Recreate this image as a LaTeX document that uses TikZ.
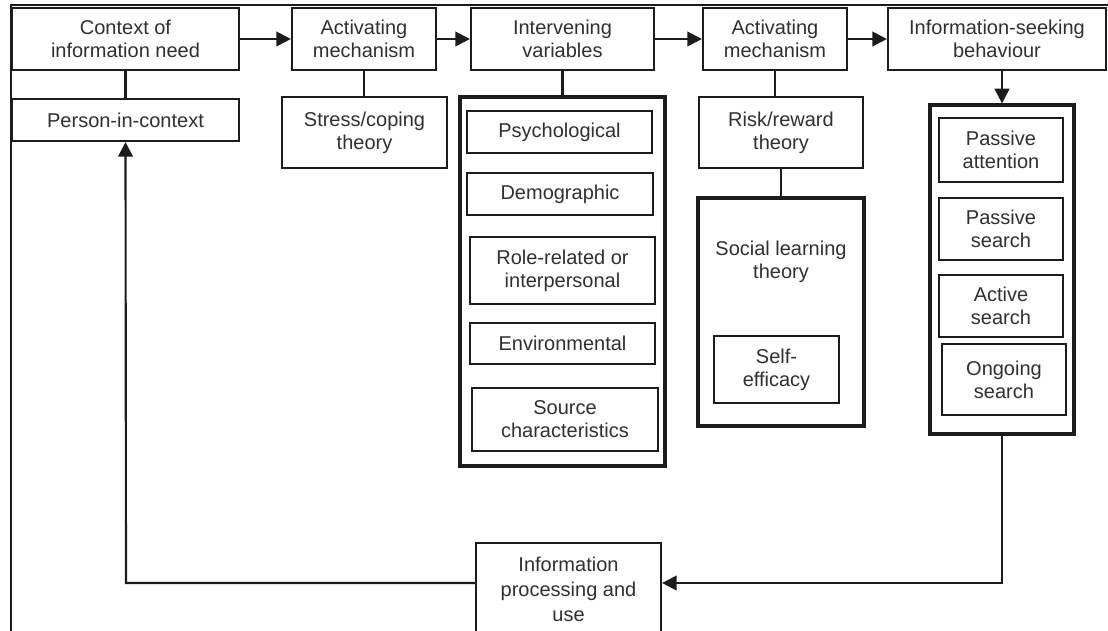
\documentclass[tikz,border=0pt]{standalone}
\usepackage{fontspec}
\setmainfont{Liberation Sans}
\usetikzlibrary{arrows.meta}
\definecolor{ink}{HTML}{1C1C1C}
\definecolor{txt}{HTML}{303030}
\tikzset{
  txtfont/.style={text=txt, font=\fontsize{15}{17.25}\selectfont},
  bx/.style={draw=ink, line width=1.6pt, inner sep=0pt, align=center, txtfont},
  frame/.style={draw=ink, line width=2.4pt, inner sep=0pt},
  link/.style={draw=ink, line width=1.6pt},
  flow/.style={link, -{Triangle[length=11pt,width=11pt]}},
  lbl/.style={align=center, inner sep=0pt, txtfont}
}
% \placebox[options]{name}{x1}{y1}{x2}{y2}{text}: a box spanning two corners
\newcommand\placebox[7][]{%
  \pgfmathsetmacro\boxw{(#5-#3)*0.75}%
  \pgfmathsetmacro\boxh{(#6-#4)*0.75}%
  \node[bx, minimum width=\boxw pt, minimum height=\boxh pt, #1] (#2)
    at ({(#3+#5)/2},{(#4+#6)/2}) {#7};%
}
\begin{document}
\begin{tikzpicture}[x=0.75pt, y=-0.75pt]
  \useasboundingbox (0,0) rectangle (1108,631);
  \clip (0,0) rectangle (1108,631);
  \fill[white] (0,0) rectangle (1108,631);

  % outer rules along the top and the left side
  \draw[ink, line width=2pt] (11,631) -- (11,5) -- (1108,5);

  % main row
  \placebox{ctx}{12}{8}{239}{70}{Context of\\information need}
  \placebox{am1}{292}{8}{436}{70}{Activating\\mechanism}
  \placebox{iv}{471}{8}{654}{70}{Intervening\\variables}
  \placebox{am2}{703}{8}{847}{70}{Activating\\mechanism}
  \placebox{isb}{888}{8}{1106}{70}{Information-seeking\\behaviour}

  % second row
  \placebox{pic}{12}{99}{239}{141}{Person-in-context}
  \placebox{stress}{282}{97}{447}{168}{Stress/coping\\theory}
  \placebox{risk}{699}{97}{863}{168}{Risk/reward\\theory}

  % intervening variables group
  \placebox[frame]{ivc}{460}{97}{665}{466}{}
  \placebox{psy}{467}{111}{652}{153}{Psychological}
  \placebox{demo}{467}{173}{653}{215}{Demographic}
  \placebox{role}{470}{237}{655}{304}{Role-related or\\interpersonal}
  \placebox{env}{470}{323}{655}{364}{Environmental}
  \placebox{src}{472}{388}{658}{451}{Source\\characteristics}

  % social learning theory group
  \placebox[frame]{slt}{698}{198}{864}{426}{}
  \node[lbl] (sltlbl) at (781,262) {Social learning\\theory};
  \placebox{self}{714}{336}{839}{403}{Self-\\efficacy}

  % information-seeking modes
  \placebox[frame]{isbc}{930}{105}{1074}{434}{}
  \placebox{pa}{939}{118}{1063}{182}{Passive\\attention}
  \placebox{ps}{939}{198}{1063}{260}{Passive\\search}
  \placebox{as}{939}{275}{1063}{337}{Active\\search}
  \placebox{os}{942}{344}{1066}{415}{Ongoing\\search}

  % processing and use
  \placebox[font=\fontsize{15}{18.75}\selectfont]{ipu}{476}{543}{661}{636}{Information\\processing and\\use}

  % flow along the main row
  \draw[flow] (ctx) -- (am1);
  \draw[flow] (am1) -- (iv);
  \draw[flow] (iv) -- (am2);
  \draw[flow] (am2) -- (isb);

  % links to the theories and groups
  \draw[link] (ctx.south) -- (pic.north);
  \draw[link] (am1.south) -- (am1.south |- stress.north);
  \draw[link] (iv.south) -- (iv.south |- ivc.north);
  \draw[link] (am2.south) -- (am2.south |- risk.north);
  \draw[link] (risk.south) -- (risk.south |- slt.north);
  \draw[flow] (isbc.north |- isb.south) -- (isbc.north);

  % feedback loop
  \coordinate (fbr) at (1002,583);
  \coordinate (fbl) at (126,583);
  \draw[flow] (isbc.south) -- (fbr) -- (fbr -| ipu.east);
  \draw[flow] (ipu.west |- fbl) -- (fbl) -- (pic.south);
\end{tikzpicture}
\end{document}
